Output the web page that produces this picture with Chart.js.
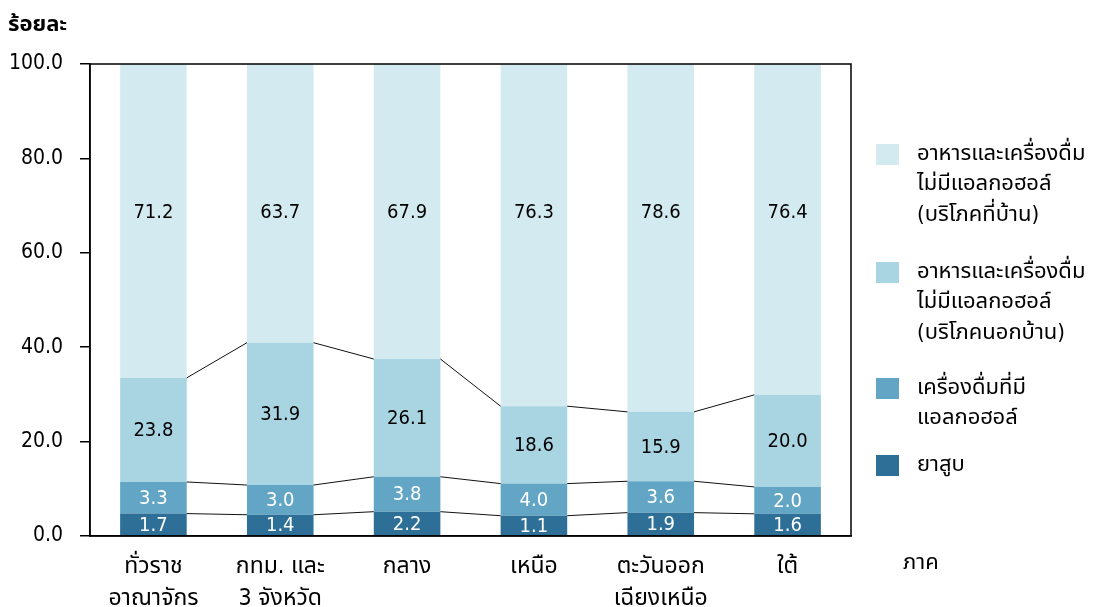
<!DOCTYPE html>
<html>
<head>
<meta charset="utf-8">
<script src="https://cdn.jsdelivr.net/npm/chart.js@4"></script>
<style>
  html, body { margin: 0; padding: 0; background: #fff; }
  #wrap { width: 1098px; height: 607px; }
</style>
</head>
<body>
<div id="wrap"><canvas id="chart" width="1098" height="607"></canvas></div>
<script>
// categories (regions)
const categories = [["ทั่วราช", "อาณาจักร"], ["กทม. และ", "3 จังหวัด"], ["กลาง"], ["เหนือ"], ["ตะวันออก", "เฉียงเหนือ"], ["ใต้"]];

// bar segment heights as drawn in the picture (percent)
const tobacco  = [4.75, 4.5, 5.15, 4.3, 4.95, 4.7];
const alcohol  = [6.7, 6.3, 7.4, 6.8, 6.65, 5.7];
const foodAway = [22.05, 30.15, 24.95, 16.4, 14.7, 19.5];
const foodHome = [66.5, 59.05, 62.5, 72.5, 73.7, 70.1];

// printed values
const tobaccoLabels  = ["1.7", "1.4", "2.2", "1.1", "1.9", "1.6"];
const alcoholLabels  = ["3.3", "3.0", "3.8", "4.0", "3.6", "2.0"];
const foodAwayLabels = ["23.8", "31.9", "26.1", "18.6", "15.9", "20.0"];
const foodHomeLabels = ["71.2", "63.7", "67.9", "76.3", "78.6", "76.4"];

const seriesNames = [
    ["ยาสูบ"],
    ["เครื่องดื่มที่มี", "แอลกอฮอล์"],
    ["อาหารและเครื่องดื่ม", "ไม่มีแอลกอฮอล์", "(บริโภคนอกบ้าน)"],
    ["อาหารและเครื่องดื่ม", "ไม่มีแอลกอฮอล์", "(บริโภคที่บ้าน)"]
];
const yTicks = [0, 20, 40, 60, 80, 100];

const FONT = "Tahoma, 'DejaVu Sans Condensed', 'Noto Sans Thai', 'Loma', 'Garuda', sans-serif";
const colors = ["#2d6f96", "#62a5c4", "#a9d5e3", "#d3eaf1"];
const labelColors = ["#fff", "#fff", "#000", "#000"];
const allLabels = [tobaccoLabels, alcoholLabels, foodAwayLabels, foodHomeLabels];

const valueLabels = {
    id: "valueLabels",
    afterDatasetsDraw(chart) {
        const ctx = chart.ctx;
        const y = chart.scales.y;
        ctx.save();
        ctx.font = "20px " + FONT;
        ctx.textAlign = "center";
        ctx.textBaseline = "middle";
        chart.data.datasets.forEach((ds, di) => {
            chart.getDatasetMeta(di).data.forEach((bar, i) => {
                let cy = (bar.y + bar.base) / 2;
                if (di === 3) cy = y.getPixelForValue(68.7);
                ctx.fillStyle = labelColors[di];
                ctx.fillText(allLabels[di][i], bar.x, cy + 1);
            });
        });
        ctx.restore();
    }
};

const seriesLines = {
    id: "seriesLines",
    afterDatasetsDraw(chart) {
        const ctx = chart.ctx;
        ctx.save();
        ctx.strokeStyle = "#111";
        ctx.lineWidth = 1;
        for (let di = 0; di < 3; di++) {
            const bars = chart.getDatasetMeta(di).data;
            for (let i = 0; i < bars.length - 1; i++) {
                const a = bars[i], b = bars[i + 1];
                ctx.beginPath();
                ctx.moveTo(a.x + a.width / 2, a.y);
                ctx.lineTo(b.x - b.width / 2, b.y);
                ctx.stroke();
            }
        }
        ctx.restore();
    }
};

const frame = {
    id: "frame",
    afterDraw(chart) {
        const ctx = chart.ctx;
        const a = chart.chartArea;
        ctx.save();
        ctx.strokeStyle = "#000";
        ctx.lineWidth = 1.5;
        ctx.strokeRect(a.left, a.top, a.right - a.left, a.bottom - a.top);

        ctx.fillStyle = "#000";
        ctx.textBaseline = "middle";
        ctx.textAlign = "left";
        ctx.font = "bold 22px " + FONT;
        ctx.fillText("ร้อยละ", 8, 25);
        ctx.font = "22px " + FONT;
        ctx.fillText("ภาค", 903, 563);

        // legend, top item first
        const tops = [144, 262, 378, 455];
        for (let k = 0; k < 4; k++) {
            const di = 3 - k;
            ctx.fillStyle = colors[di];
            ctx.fillRect(876, tops[k], 23, 21);
            ctx.fillStyle = "#000";
            seriesNames[di].forEach((line, j) => {
                ctx.fillText(line, 917, tops[k] + 10 + j * 30.5);
            });
        }
        ctx.restore();
    }
};

new Chart(document.getElementById("chart"), {
    type: "bar",
    data: {
        labels: categories,
        datasets: [
            { label: seriesNames[0].join(" "), data: tobacco },
            { label: seriesNames[1].join(" "), data: alcohol },
            { label: seriesNames[2].join(" "), data: foodAway },
            { label: seriesNames[3].join(" "), data: foodHome }
        ].map((d, i) => Object.assign(d, {
            backgroundColor: colors[i],
            borderWidth: 0,
            barPercentage: 0.525,
            categoryPercentage: 1
        }))
    },
    options: {
        responsive: false,
        devicePixelRatio: 1,
        animation: false,
        layout: { padding: { top: 64, right: 247, bottom: 0, left: 0 } },
        plugins: { legend: { display: false }, tooltip: { enabled: false } },
        scales: {
            x: {
                stacked: true,
                grid: { display: false, drawTicks: false },
                border: { display: true, color: "#000", width: 1.5 },
                ticks: {
                    color: "#000",
                    font: { family: FONT, size: 23, lineHeight: 1.4 },
                    padding: 15,
                    maxRotation: 0
                },
                afterFit(s) { s.height = 71; }
            },
            y: {
                stacked: true,
                min: 0,
                max: 100,
                afterBuildTicks(s) { s.ticks = yTicks.map(v => ({ value: v })); },
                grid: { drawOnChartArea: false, tickLength: 10, color: "#000", lineWidth: 1.5 },
                border: { display: true, color: "#000", width: 1.5 },
                ticks: {
                    color: "#000",
                    font: { family: FONT, size: 21 },
                    padding: 17,
                    callback: v => v.toFixed(1)
                },
                afterFit(s) { s.width = 90; }
            }
        }
    },
    plugins: [valueLabels, seriesLines, frame]
});
</script>
</body>
</html>
